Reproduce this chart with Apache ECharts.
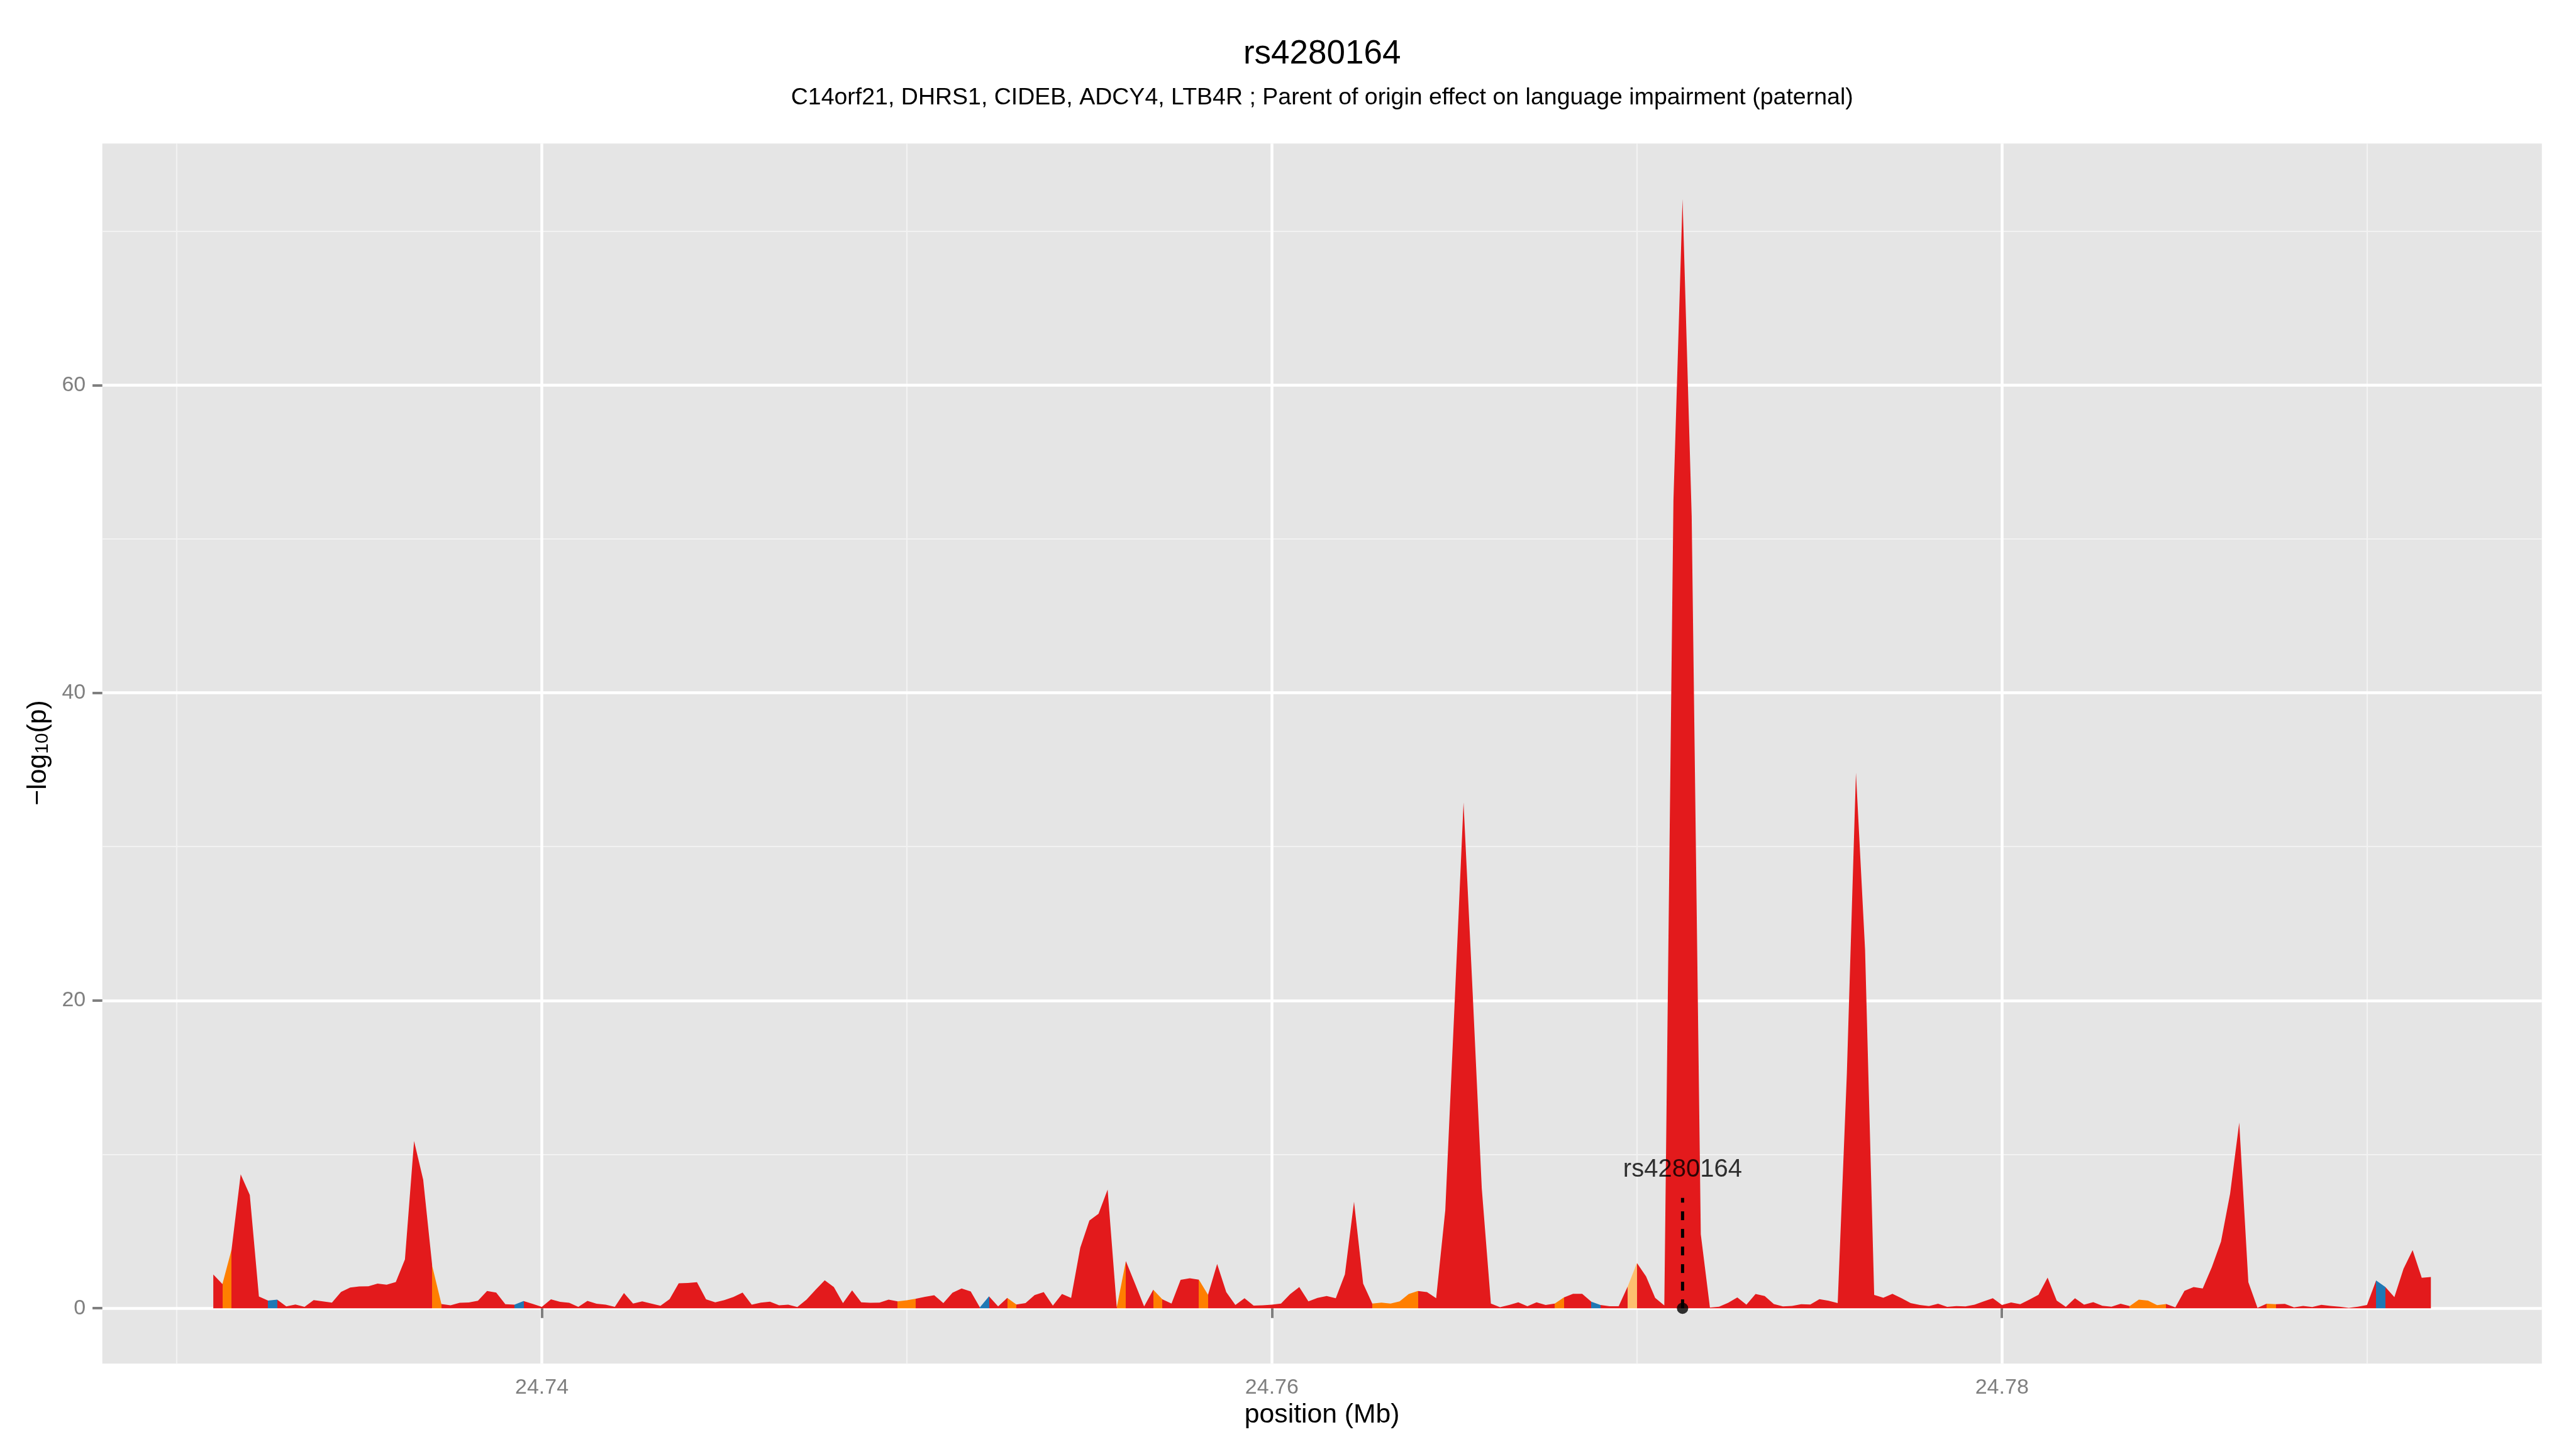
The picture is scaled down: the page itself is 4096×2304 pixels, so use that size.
<!DOCTYPE html>
<html>
<head>
<meta charset="utf-8">
<script src="https://cdn.jsdelivr.net/npm/echarts@6/dist/echarts.min.js"></script>
<style>
html,body{margin:0;padding:0;background:#ffffff;}
#chart{width:4096px;height:2304px;}
</style>
</head>
<body>
<div id="chart"></div>
<script>
// ---------- data ----------
const chartTitle = 'rs4280164';
const chartSubtitle = 'C14orf21, DHRS1, CIDEB, ADCY4, LTB4R ; Parent of origin effect on language impairment (paternal)';
const xAxisTitle = 'position (Mb)';

// evenly spaced marker grid (Mb): 24.731 Mb onward, every 250 bp
const positionStartMb = 24.731;
const positionStepMb = 0.00025;

// -log10(p) at each grid position
const logP = [
  2.19, 1.57, 3.81, 8.70, 7.36, 0.76, 0.50, 0.56, 0.12, 0.24,
  0.09, 0.53, 0.44, 0.36, 1.06, 1.34, 1.42, 1.43, 1.60, 1.53,
  1.70, 3.17, 10.87, 8.35, 2.71, 0.27, 0.19, 0.35, 0.37, 0.49,
  1.12, 1.02, 0.26, 0.23, 0.47, 0.28, 0.09, 0.58, 0.41, 0.35,
  0.09, 0.48, 0.29, 0.23, 0.09, 0.99, 0.30, 0.44, 0.30, 0.16,
  0.59, 1.62, 1.64, 1.69, 0.58, 0.38, 0.53, 0.73, 1.02, 0.23,
  0.36, 0.42, 0.19, 0.23, 0.08, 0.56, 1.20, 1.81, 1.37, 0.33,
  1.16, 0.38, 0.35, 0.36, 0.56, 0.44, 0.52, 0.62, 0.74, 0.84,
  0.33, 1.01, 1.28, 1.09, 0.06, 0.77, 0.12, 0.67, 0.24, 0.33,
  0.85, 1.05, 0.17, 0.93, 0.67, 3.93, 5.70, 6.14, 7.71, 0.06,
  3.06, 1.60, 0.12, 1.20, 0.58, 0.30, 1.84, 1.95, 1.86, 0.87,
  2.88, 1.05, 0.21, 0.65, 0.17, 0.19, 0.23, 0.30, 0.91, 1.37,
  0.44, 0.67, 0.79, 0.65, 2.20, 6.92, 1.60, 0.30, 0.36, 0.30,
  0.44, 0.93, 1.12, 1.05, 0.65, 6.37, 19.5, 32.87, 20.5, 7.78,
  0.30, 0.07, 0.21, 0.38, 0.13, 0.38, 0.21, 0.30, 0.70, 0.94,
  0.94, 0.42, 0.21, 0.13, 0.13, 1.43, 2.94, 2.07, 0.67, 0.18,
  52.5, 72.1, 51.5, 4.80, 0.05, 0.10, 0.35, 0.70, 0.23, 0.93,
  0.79, 0.27, 0.12, 0.15, 0.26, 0.24, 0.59, 0.49, 0.33, 15.2,
  34.8, 23.3, 0.86, 0.68, 0.94, 0.65, 0.33, 0.21, 0.14, 0.29,
  0.09, 0.14, 0.12, 0.23, 0.44, 0.65, 0.21, 0.37, 0.26, 0.56,
  0.87, 1.99, 0.50, 0.09, 0.65, 0.23, 0.39, 0.16, 0.10, 0.29,
  0.14, 0.56, 0.50, 0.20, 0.27, 0.06, 1.13, 1.37, 1.28, 2.67,
  4.33, 7.44, 12.06, 1.69, 0.03, 0.29, 0.26, 0.28, 0.06, 0.15,
  0.08, 0.22, 0.15, 0.10, 0.03, 0.10, 0.21, 1.80, 1.38, 0.72,
  2.56, 3.78, 1.98, 2.03
];

// LD class of stretches between grid points (all others are 'high')
const ldSegmentStart = [1, 6, 24, 33, 75, 84, 87, 99, 103, 108, 127, 147, 151, 155, 210, 225, 237];
const ldSegmentEnd   = [2, 7, 25, 34, 77, 85, 88, 100, 104, 109, 132, 148, 152, 156, 214, 226, 238];
const ldSegmentClass = ['mid', 'weak', 'mid', 'weak', 'mid', 'weak', 'mid', 'mid', 'mid', 'mid', 'mid', 'mid', 'weak', 'low', 'mid', 'mid', 'weak'];
const ldClassNames = ['high', 'mid', 'low', 'weak'];
const ldClassColors = ['#E31A1C', '#FF7F00', '#FDBF6F', '#1F78B4'];

// axis ticks / grid
const xTickValues = [24.74, 24.76, 24.78];
const xMinorGridValues = [24.73, 24.75, 24.77, 24.79];
const yTickValues = [0, 20, 40, 60];
const yMinorGridValues = [10, 30, 50, 70];
const xRange = [24.72796, 24.79479];
const yRange = [-3.6, 75.7];

// lead SNP annotation
const leadSnpName = 'rs4280164';
const leadSnpIndex = 161;
const leadSnpLineTop = 7.17;
const leadSnpLabelY = 9.0;

// ---------- build ----------
const FONT = '"Liberation Sans", Arial, Helvetica, sans-serif';
const positionsMb = logP.map((_, i) => +(positionStartMb + i * positionStepMb).toFixed(6));
const areaData = positionsMb.map((x, i) => [x, logP[i]]);
const colorOf = c => ldClassColors[ldClassNames.indexOf(c)];
const pieces = ldSegmentStart.map((s, k) => ({
  gte: positionsMb[s], lte: positionsMb[ldSegmentEnd[k]], color: colorOf(ldSegmentClass[k])
}));
const leadX = positionsMb[leadSnpIndex];

const chart = echarts.init(document.getElementById('chart'), null, {renderer: 'canvas'});

const gridL = 162.7, gridR = 54.3, gridT = 228.2, gridB = 135.8;
const panelCenterX = (gridL + (4096 - gridR)) / 2;

const option = {
  animation: false,
  backgroundColor: '#ffffff',
  grid: {
    left: gridL, right: gridR, top: gridT, bottom: gridB,
    show: true, backgroundColor: '#E5E5E5', borderWidth: 0, containLabel: false
  },
  xAxis: [
    {
      type: 'value', min: xRange[0], max: xRange[1],
      axisLine: {show: false},
      axisTick: {show: true, customValues: xTickValues, length: 15.6, lineStyle: {color: '#7F7F7F', width: 4}},
      axisLabel: {show: true, customValues: xTickValues, margin: 21, fontSize: 34, color: '#7F7F7F', fontFamily: FONT,
        formatter: v => v.toFixed(2)},
      splitLine: {show: true, lineStyle: {color: '#FFFFFF', width: 4.5}},
      z: 1
    },
    {
      type: 'value', min: xRange[0], max: xRange[1], position: 'bottom',
      axisLine: {show: false},
      axisTick: {show: false, customValues: xMinorGridValues},
      axisLabel: {show: false, customValues: xMinorGridValues},
      splitLine: {show: true, lineStyle: {color: '#F2F2F2', width: 2.2}},
      z: 0
    }
  ],
  yAxis: [
    {
      type: 'value', min: yRange[0], max: yRange[1],
      axisLine: {show: false},
      axisTick: {show: true, customValues: yTickValues, length: 15.6, lineStyle: {color: '#7F7F7F', width: 4}},
      axisLabel: {show: true, customValues: yTickValues, margin: 26.5, fontSize: 34, color: '#7F7F7F', fontFamily: FONT},
      splitLine: {show: true, lineStyle: {color: '#FFFFFF', width: 4.5}},
      z: 1
    },
    {
      type: 'value', min: yRange[0], max: yRange[1], position: 'left',
      axisLine: {show: false},
      axisTick: {show: false, customValues: yMinorGridValues},
      axisLabel: {show: false, customValues: yMinorGridValues},
      splitLine: {show: true, lineStyle: {color: '#F2F2F2', width: 2.2}},
      z: 0
    }
  ],
  visualMap: {
    type: 'piecewise', show: false, dimension: 0, seriesIndex: 0,
    pieces: pieces,
    outOfRange: {color: colorOf('high')}
  },
  series: [
    {
      type: 'line', data: areaData, xAxisIndex: 0, yAxisIndex: 0,
      symbol: 'none', showSymbol: false, silent: true,
      lineStyle: {width: 0},
      areaStyle: {opacity: 1},
      z: 3
    },
    {
      type: 'line', data: [[leadX, 0], [leadX, leadSnpLineTop]], xAxisIndex: 0, yAxisIndex: 0,
      symbol: 'none', silent: true,
      lineStyle: {color: '#000000', width: 5, type: [14, 14]},
      z: 5
    },
    {
      type: 'scatter', data: [[leadX, 0]], xAxisIndex: 0, yAxisIndex: 0,
      symbol: 'circle', symbolSize: 18, itemStyle: {color: '#000000'}, silent: true,
      z: 6
    },
    {
      type: 'scatter', data: [[leadX, leadSnpLabelY]], xAxisIndex: 0, yAxisIndex: 0,
      symbol: 'circle', symbolSize: 1, itemStyle: {color: 'transparent'}, silent: true,
      label: {show: true, position: 'inside', formatter: leadSnpName, fontSize: 40, color: '#000000', fontFamily: FONT},
      z: 7
    }
  ],
  graphic: [
    {type: 'text', x: panelCenterX, y: 86.7, z: 10,
      style: {text: chartTitle, fontSize: 53, fill: '#000000', fontFamily: FONT, align: 'center', verticalAlign: 'middle'}},
    {type: 'text', x: panelCenterX, y: 156, z: 10,
      style: {text: chartSubtitle, fontSize: 37.5, fill: '#000000', fontFamily: FONT, align: 'center', verticalAlign: 'middle'}},
    {type: 'text', x: panelCenterX, y: 2250, z: 10,
      style: {text: xAxisTitle, fontSize: 42.7, fill: '#000000', fontFamily: FONT, align: 'center', verticalAlign: 'middle'}},
    {type: 'text', x: 61.5, y: 1197, rotation: Math.PI / 2, z: 10,
      style: {text: '\u2212log{sub|10}(p)', fontSize: 42.7, fill: '#000000', fontFamily: FONT, align: 'center', verticalAlign: 'middle',
        rich: {sub: {fontSize: 30, fontFamily: FONT, fill: '#000000', verticalAlign: 'bottom', lineHeight: 30}}}}
  ]
};
chart.setOption(option);
</script>
</body>
</html>
